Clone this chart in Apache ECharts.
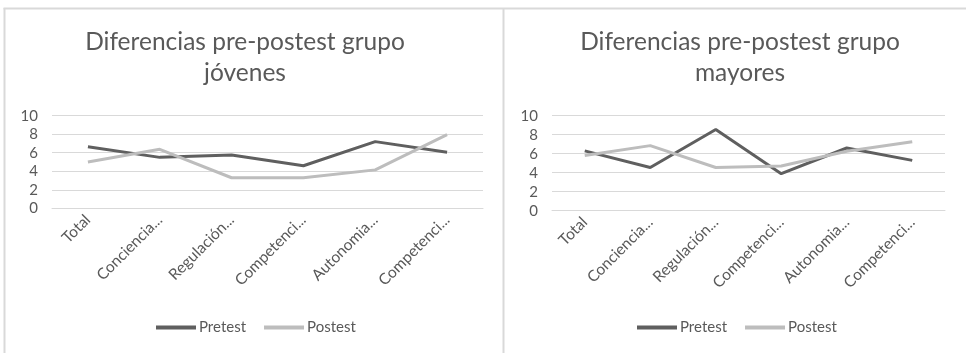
<!DOCTYPE html>
<html>
<head>
<meta charset="utf-8">
<script src="https://cdn.jsdelivr.net/npm/echarts@6/dist/echarts.min.js"></script>
<style>
html,body{margin:0;padding:0;background:#fff;}
#c{width:966px;height:353px;}
</style>
</head>
<body>
<div id="c"></div>
<script>
const categories = ['Total', 'Conciencia...', 'Regulación...', 'Competenci...', 'Autonomia...', 'Competenci...'];
const yTicks = [0, 2, 4, 6, 8, 10];
const jovenesPretest = [6.65, 5.5, 5.75, 4.6, 7.2, 6.05];
const jovenesPostest = [5.0, 6.37, 3.3, 3.3, 4.15, 7.95];
const mayoresPretest = [6.3, 4.55, 8.55, 3.9, 6.6, 5.3];
const mayoresPostest = [5.8, 6.85, 4.55, 4.7, 6.25, 7.25];
const seriesNames = ['Pretest', 'Postest'];
const titles = ['Diferencias pre-postest grupo\njóvenes', 'Diferencias pre-postest grupo\nmayores'];

const FONT = 'Lato';
const TXT = '#595959';
const PRE = '#5f5f5f';
const POST = '#bdbdbd';
const GRID = '#d9d9d9';

const chart = echarts.init(document.getElementById('c'));

function xAxis(i) {
  return {
    type: 'category', gridIndex: i, data: categories, boundaryGap: true,
    axisLine: {show: true, lineStyle: {color: GRID, width: 1}},
    axisTick: {show: false},
    axisLabel: {rotate: 45, color: TXT, fontFamily: FONT, fontSize: 15.5, margin: 9, interval: 0}
  };
}
function yAxis(i) {
  return {
    type: 'value', gridIndex: i, min: yTicks[0], max: yTicks[yTicks.length - 1], interval: 2,
    axisLine: {show: false}, axisTick: {show: false},
    splitLine: {lineStyle: {color: GRID, width: 1}},
    axisLabel: {color: TXT, fontFamily: FONT, fontSize: 15, margin: 14}
  };
}
function line(name, data, i, color) {
  return {
    name: name, type: 'line', xAxisIndex: i, yAxisIndex: i, data: data,
    showSymbol: false, symbol: 'none', lineStyle: {color: color, width: 3}, itemStyle: {color: color},
    emphasis: {disabled: true}
  };
}

const titleStyle = {fontFamily: FONT, fontSize: 24.5, fontWeight: 'normal', color: TXT, lineHeight: 31};
const legendBase = {data: seriesNames, top: 315, itemWidth: 40, itemHeight: 4, icon: 'rect', itemGap: 18,
  textStyle: {fontFamily: FONT, fontSize: 15, color: TXT, padding: [0, 0, 0, -2]}};

const option = {
  animation: false,
  backgroundColor: '#fff',
  title: [
    {text: titles[0], left: 240, top: 22, textAlign: 'center', textStyle: titleStyle},
    {text: titles[1], left: 735, top: 22, textAlign: 'center', textStyle: titleStyle}
  ],
  legend: [
    Object.assign({left: 151}, legendBase),
    Object.assign({left: 632}, legendBase)
  ],
  grid: [
    {left: 52, top: 115.7, width: 431, height: 92.6},
    {left: 552, top: 115.7, width: 393, height: 95}
  ],
  xAxis: [xAxis(0), xAxis(1)],
  yAxis: [yAxis(0), yAxis(1)],
  series: [
    line(seriesNames[0], jovenesPretest, 0, PRE),
    line(seriesNames[1], jovenesPostest, 0, POST),
    line(seriesNames[0], mayoresPretest, 1, PRE),
    line(seriesNames[1], mayoresPostest, 1, POST)
  ],
  graphic: [
    {type: 'line', shape: {x1: 3.5, y1: 8.5, x2: 966, y2: 8.5}, style: {stroke: GRID, lineWidth: 2}, silent: true},
    {type: 'line', shape: {x1: 4.5, y1: 8, x2: 4.5, y2: 353}, style: {stroke: GRID, lineWidth: 2}, silent: true},
    {type: 'line', shape: {x1: 503.5, y1: 8, x2: 503.5, y2: 353}, style: {stroke: GRID, lineWidth: 2}, silent: true}
  ]
};
chart.setOption(option);
</script>
</body>
</html>
